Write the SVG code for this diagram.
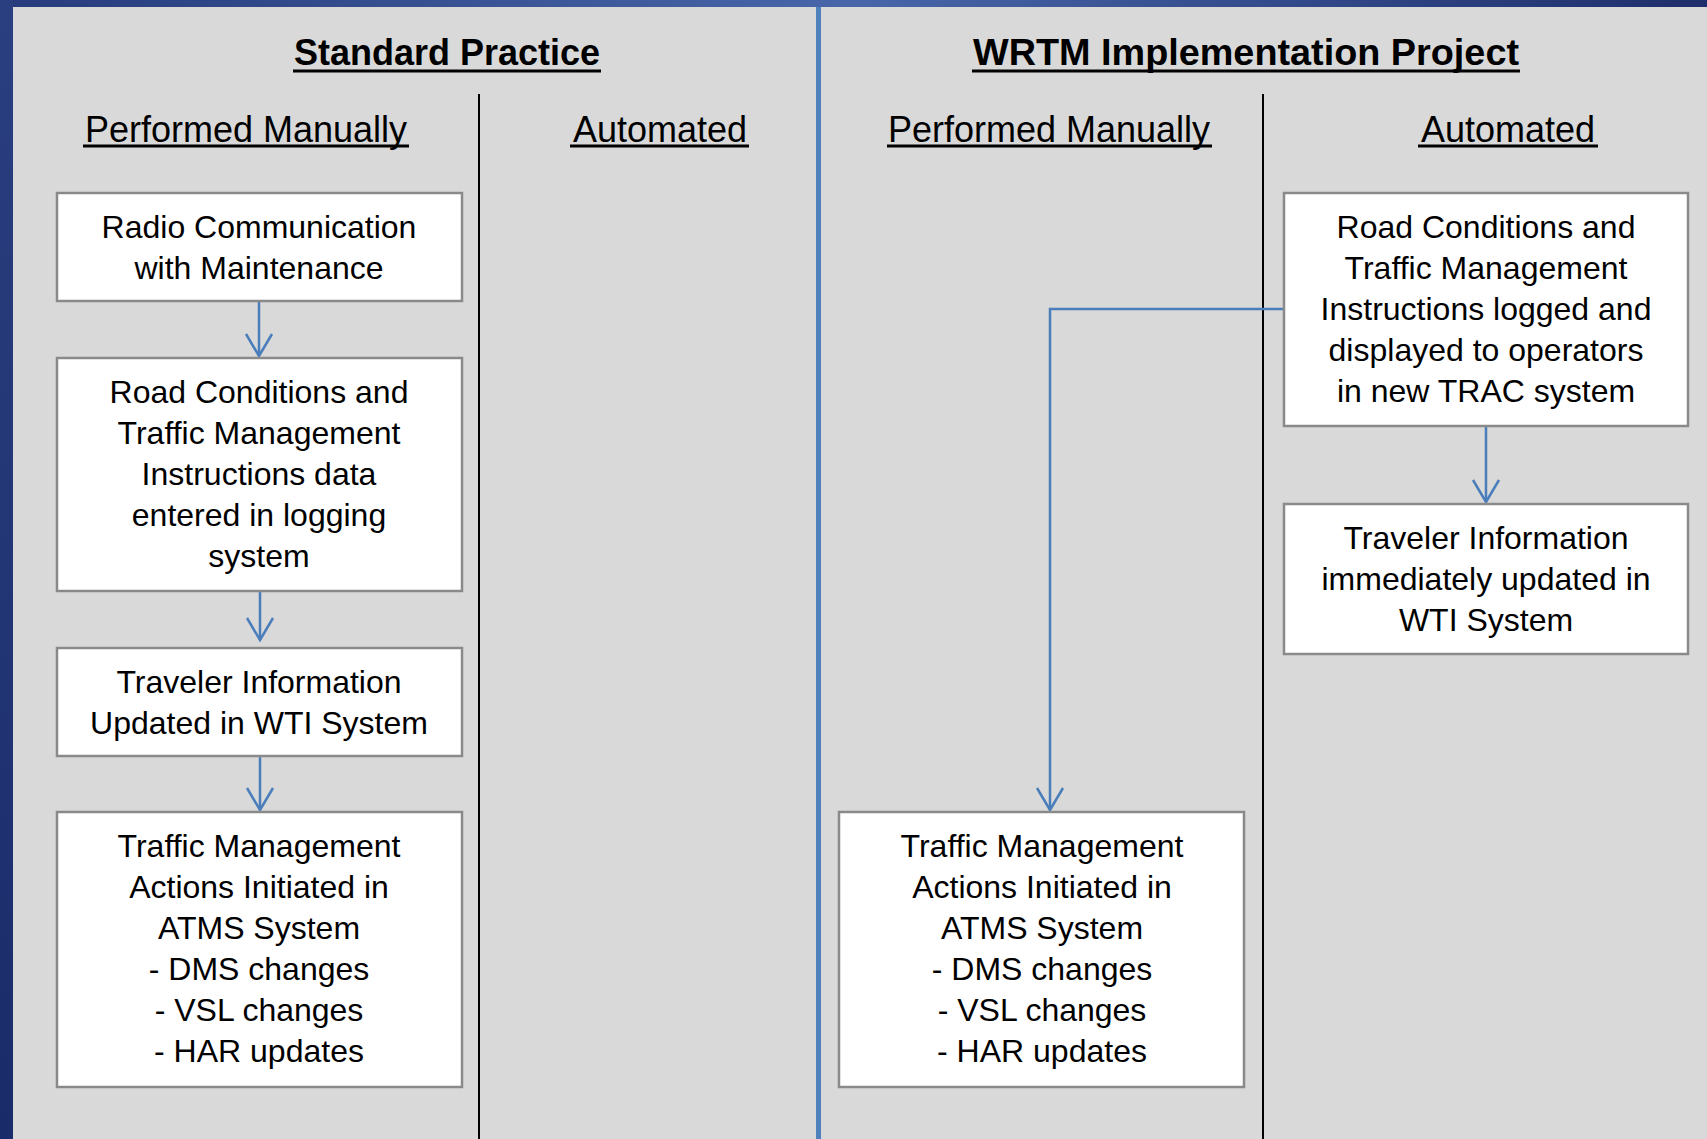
<svg xmlns="http://www.w3.org/2000/svg" width="1707" height="1139" viewBox="0 0 1707 1139">
  <defs>
    <linearGradient id="topGrad" x1="0" y1="0" x2="1" y2="0">
      <stop offset="0" stop-color="#263b7b"/>
      <stop offset="0.5" stop-color="#4866aa"/>
      <stop offset="1" stop-color="#1e2e6b"/>
    </linearGradient>
    <linearGradient id="leftGrad" x1="0" y1="0" x2="0" y2="1">
      <stop offset="0" stop-color="#2a3f80"/>
      <stop offset="1" stop-color="#1a2b69"/>
    </linearGradient>
    <marker id="vhead" markerUnits="userSpaceOnUse" viewBox="-25 -15 28 30" refX="0" refY="0" markerWidth="28" markerHeight="30" orient="auto" overflow="visible">
      <path d="M-22,-13 L0,0 L-22,13" fill="none" stroke="#4a7ebb" stroke-width="2.5"/>
    </marker>
    <style>
      .box { fill: #ffffff; stroke: #8a8a8a; stroke-width: 2.5; }
      .t { font-family: "Liberation Sans", Arial, sans-serif; font-size: 32px; fill: #000; text-anchor: middle; }
      .title { font-family: "Liberation Sans", Arial, sans-serif; font-size: 37px; font-weight: bold; fill: #000; text-anchor: middle; }
      .head { font-family: "Liberation Sans", Arial, sans-serif; font-size: 36px; fill: #000; text-anchor: middle; }
      .ul { stroke: #000; stroke-width: 3; }
      .conn { fill: none; stroke: #4a7ebb; stroke-width: 2.5; marker-end: url(#vhead); }
    </style>
  </defs>

  <!-- background and frame -->
  <rect x="0" y="0" width="1707" height="1139" fill="#d9d9d9"/>
  <rect x="0" y="0" width="1707" height="7" fill="url(#topGrad)"/>
  <rect x="0" y="0" width="13" height="1139" fill="url(#leftGrad)"/>

  <!-- dividers -->
  <rect x="816" y="7" width="5" height="1132" fill="#4f81bd"/>
  <line x1="479" y1="94" x2="479" y2="1139" stroke="#000" stroke-width="2"/>
  <line x1="1263" y1="94" x2="1263" y2="1139" stroke="#000" stroke-width="2"/>

  <!-- headers -->
  <g id="headers">
    <text class="title" x="447" y="65" textLength="306" lengthAdjust="spacingAndGlyphs">Standard Practice</text>
    <line class="ul" x1="293" y1="71" x2="601" y2="71"/>
    <text class="title" x="1246" y="65" textLength="546" lengthAdjust="spacingAndGlyphs">WRTM Implementation Project</text>
    <line class="ul" x1="972" y1="71" x2="1520" y2="71"/>
    <text class="head" x="246" y="142">Performed Manually</text>
    <line class="ul" x1="83" y1="146" x2="409" y2="146"/>
    <text class="head" x="660" y="142">Automated</text>
    <line class="ul" x1="570" y1="146" x2="749" y2="146"/>
    <text class="head" x="1049" y="142">Performed Manually</text>
    <line class="ul" x1="887" y1="146" x2="1212" y2="146"/>
    <text class="head" x="1508" y="142">Automated</text>
    <line class="ul" x1="1418" y1="146" x2="1598" y2="146"/>
  </g>

  <!-- connectors -->
  <g id="connectors">
    <path class="conn" d="M259,301 V356"/>
    <path class="conn" d="M260,585 V640"/>
    <path class="conn" d="M260,755 V810"/>
    <path class="conn" d="M1284,309 H1050 V810"/>
    <path class="conn" d="M1486,426 V502"/>
  </g>

  <!-- nodes -->
  <g id="sp-radio">
    <rect class="box" x="57" y="193" width="405" height="108"/>
    <text class="t" x="259" y="238">Radio Communication</text>
    <text class="t" x="259" y="279">with Maintenance</text>
  </g>
  <g id="sp-road">
    <rect class="box" x="57" y="358" width="405" height="233"/>
    <text class="t" x="259" y="402.5">Road Conditions and</text>
    <text class="t" x="259" y="443.5">Traffic Management</text>
    <text class="t" x="259" y="484.5">Instructions data</text>
    <text class="t" x="259" y="525.5">entered in logging</text>
    <text class="t" x="259" y="566.5">system</text>
  </g>
  <g id="sp-traveler">
    <rect class="box" x="57" y="648" width="405" height="108"/>
    <text class="t" x="259" y="693">Traveler Information</text>
    <text class="t" x="259" y="734">Updated in WTI System</text>
  </g>
  <g id="sp-atms">
    <rect class="box" x="57" y="812" width="405" height="275"/>
    <text class="t" x="259" y="857">Traffic Management</text>
    <text class="t" x="259" y="898">Actions Initiated in</text>
    <text class="t" x="259" y="939">ATMS System</text>
    <text class="t" x="259" y="980">- DMS changes</text>
    <text class="t" x="259" y="1021">- VSL changes</text>
    <text class="t" x="259" y="1062">- HAR updates</text>
  </g>
  <g id="wrtm-road">
    <rect class="box" x="1284" y="193" width="404" height="233"/>
    <text class="t" x="1486" y="237.5">Road Conditions and</text>
    <text class="t" x="1486" y="278.5">Traffic Management</text>
    <text class="t" x="1486" y="319.5">Instructions logged and</text>
    <text class="t" x="1486" y="360.5">displayed to operators</text>
    <text class="t" x="1486" y="401.5">in new TRAC system</text>
  </g>
  <g id="wrtm-traveler">
    <rect class="box" x="1284" y="504" width="404" height="150"/>
    <text class="t" x="1486" y="548.5">Traveler Information</text>
    <text class="t" x="1486" y="589.5">immediately updated in</text>
    <text class="t" x="1486" y="630.5">WTI System</text>
  </g>
  <g id="wrtm-atms">
    <rect class="box" x="839" y="812" width="405" height="275"/>
    <text class="t" x="1042" y="857">Traffic Management</text>
    <text class="t" x="1042" y="898">Actions Initiated in</text>
    <text class="t" x="1042" y="939">ATMS System</text>
    <text class="t" x="1042" y="980">- DMS changes</text>
    <text class="t" x="1042" y="1021">- VSL changes</text>
    <text class="t" x="1042" y="1062">- HAR updates</text>
  </g>
</svg>
